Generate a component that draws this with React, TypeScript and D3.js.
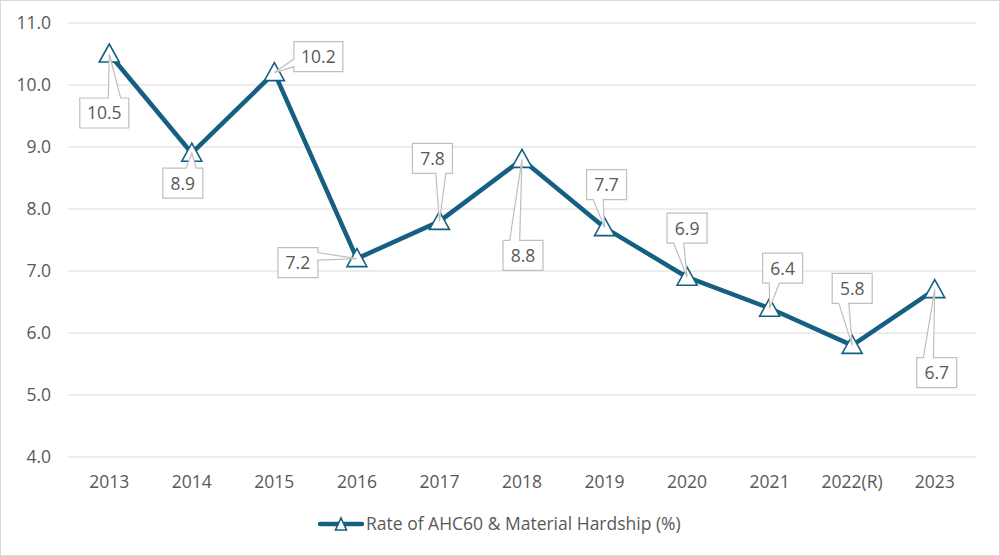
import React from "react";
import * as d3 from "d3";

const categories = ["2013", "2014", "2015", "2016", "2017", "2018", "2019", "2020", "2021", "2022(R)", "2023"];
const values = [10.5, 8.9, 10.2, 7.2, 7.8, 8.8, 7.7, 6.9, 6.4, 5.8, 6.7];
const yTicks = [4, 5, 6, 7, 8, 9, 10, 11];
const seriesName = "Rate of AHC60 & Material Hardship (%)";
// label box centre offsets relative to the point (layout only)
const labelOffsets: [number, number][] = [
  [-5, 59], [-9, 30], [44, -16], [-59, 4], [-7, -63], [1, 96], [2, -43], [0, -49], [13, -40], [0, -57], [2, 83],
];

const W = 1000, H = 556;
const M = { left: 68, right: 24, top: 23, bottom: 99 };
const COLOR = "#156082";
const TEXT = "#595959";
const FONT = "'Open Sans', 'Liberation Sans', sans-serif";
const FS = 17.5;

function calloutPath(cx: number, cy: number, w: number, h: number, px: number, py: number) {
  const l = cx - w / 2, t = cy - h / 2, r = cx + w / 2, b = cy + h / 2;
  const dxPos = px - cx, dyPos = py - cy;
  const dx = (dxPos * h) / w;
  const inside = Math.abs(dxPos) <= w / 2 && Math.abs(dyPos) <= h / 2;
  const xg1 = dxPos > 0 ? 7 : 2, xg2 = dxPos > 0 ? 10 : 5;
  const yg1 = dyPos > 0 ? 7 : 2, yg2 = dyPos > 0 ? 10 : 5;
  const x1 = l + (w * xg1) / 12, x2 = l + (w * xg2) / 12;
  const y1 = t + (h * yg1) / 12, y2 = t + (h * yg2) / 12;
  if (inside) return `M${l},${t}H${r}V${b}H${l}Z`;
  if (Math.abs(dyPos) > Math.abs(dx)) {
    if (dyPos < 0) {
      return `M${l},${t}H${x1}L${px},${py}L${x2},${t}H${r}V${b}H${l}Z`;
    }
    return `M${l},${t}H${r}V${b}H${x2}L${px},${py}L${x1},${b}H${l}Z`;
  } else {
    if (dxPos < 0) {
      return `M${l},${t}H${r}V${b}H${l}V${y2}L${px},${py}L${l},${y1}Z`;
    }
    return `M${l},${t}H${r}V${y1}L${px},${py}L${r},${y2}V${b}H${l}Z`;
  }
}

function Triangle({ x, y }: { x: number; y: number }) {
  const hw = 10, hh = 9;
  return (
    <path
      d={`M${x},${y - hh - 1}L${x + hw},${y + hh - 1}L${x - hw},${y + hh - 1}Z`}
      fill="#fff"
      stroke={COLOR}
      strokeWidth={1.6}
    />
  );
}

export default function App() {
  const x = d3.scaleBand<string>().domain(categories).range([M.left, W - M.right]);
  const y = d3.scaleLinear().domain([4, 11]).range([H - M.bottom, M.top]);
  const cx = (c: string) => (x(c) as number) + x.bandwidth() / 2;
  const line = d3
    .line<number>()
    .x((_, i) => cx(categories[i]))
    .y((v) => y(v));

  return (
    <svg width={W} height={H} style={{ position: "absolute", left: 0, top: 0, fontFamily: FONT }}>
      <rect x={0.5} y={0.5} width={W - 1} height={H - 1} fill="#fff" stroke="#d9d9d9" />
      {yTicks.map((t) => (
        <g key={t}>
          <line x1={M.left} x2={W - M.right} y1={y(t)} y2={y(t)} stroke="#d9d9d9" strokeWidth={1} />
          <text x={51} y={y(t)} dy="0.36em" textAnchor="end" fontSize={FS} fill={TEXT}>
            {t.toFixed(1)}
          </text>
        </g>
      ))}
      {categories.map((c) => (
        <text key={c} x={cx(c)} y={487.5} textAnchor="middle" fontSize={FS} fill={TEXT}>
          {c}
        </text>
      ))}
      <path d={line(values) || ""} fill="none" stroke={COLOR} strokeWidth={4.5} strokeLinejoin="round" />
      {values.map((v, i) => (
        <Triangle key={i} x={cx(categories[i])} y={y(v)} />
      ))}
      {values.map((v, i) => {
        const px = cx(categories[i]);
        const py = y(v);
        const lab = v.toFixed(1);
        const bw = lab.length > 3 ? 49 : 40;
        const bh = 30;
        const bx = px + labelOffsets[i][0];
        const by = py + labelOffsets[i][1];
        return (
          <g key={"l" + i}>
            <path d={calloutPath(bx, by, bw, bh, px, py)} fill="#fff" stroke="#bfbfbf" strokeWidth={1.2} />
            <text x={bx} y={by} dy="0.36em" textAnchor="middle" fontSize={FS} fill={TEXT}>
              {lab}
            </text>
          </g>
        );
      })}
      <g>
        <line x1={320} x2={362} y1={524} y2={524} stroke={COLOR} strokeWidth={4.5} strokeLinecap="round" />
        <path d="M341,518L346.5,530L335.5,530Z" fill="#fff" stroke={COLOR} strokeWidth={1.6} />
        <text x={366} y={524} dy="0.36em" fontSize={FS} fill={TEXT}>
          {seriesName}
        </text>
      </g>
    </svg>
  );
}
